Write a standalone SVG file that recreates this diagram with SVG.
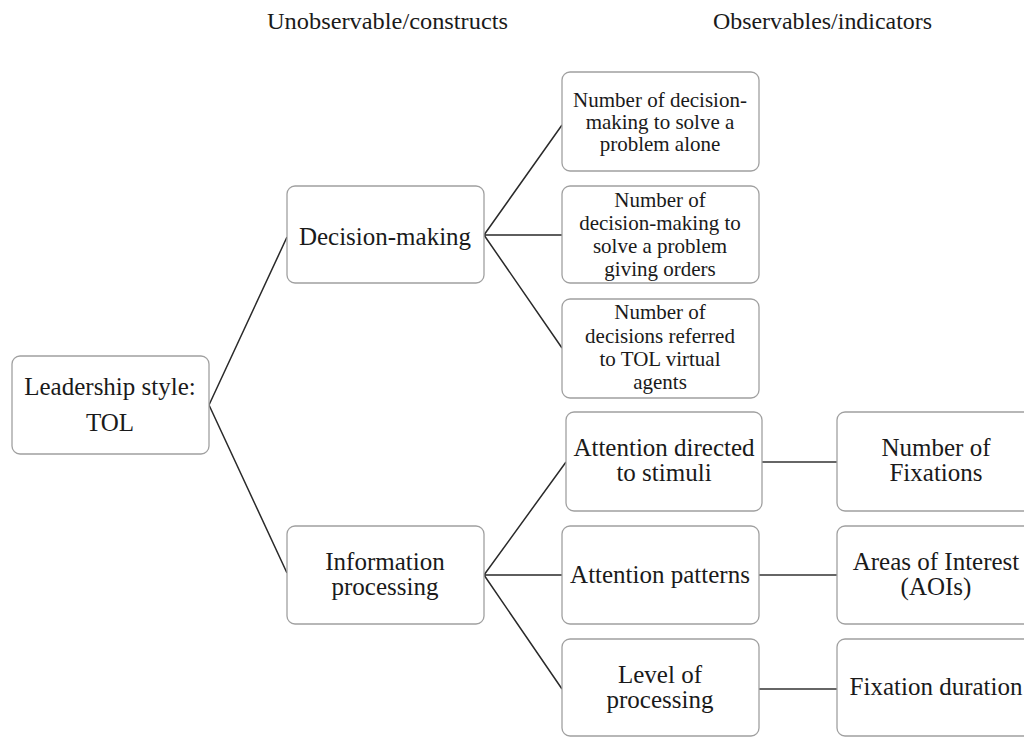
<svg xmlns="http://www.w3.org/2000/svg" width="1024" height="737" viewBox="0 0 1024 737">
<style>
.box{fill:#fff;stroke:#a0a0a0;stroke-width:1.3}
.t{font-family:"Liberation Serif","Times New Roman",serif;fill:#1a1a1a;text-anchor:middle}
.big{font-size:25px}
.sm{font-size:21px}
.hd{font-family:"Liberation Serif","Times New Roman",serif;fill:#1a1a1a;font-size:23px}
.c{stroke:#2a2a2a;stroke-width:1.5;fill:none}
.h{stroke:#666;stroke-width:2;fill:none}
</style>
<rect width="1024" height="737" fill="#fff"/>
<text class="hd" x="267" y="29" textLength="241" lengthAdjust="spacingAndGlyphs">Unobservable/constructs</text>
<text class="hd" x="713" y="29" textLength="219" lengthAdjust="spacingAndGlyphs">Observables/indicators</text>
<g id="connectors">
<path class="c" d="M209,405 L287,237 M209,405 L287,573"/>
<path class="c" d="M484,235 L562,125 M484,235 L562,235 M484,235 L562,348"/>
<path class="c" d="M484,575 L566,462 M484,575 L562,575 M484,575 L562,689"/>
<path class="h" d="M762,462 L837,462 M759,575 L837,575 M759,689 L837,689"/>
</g>
<g id="leadership"><rect class="box" x="12" y="356" width="197" height="98" rx="8"/>
<text class="t big" x="110" y="395">Leadership style:</text><text class="t big" x="110" y="431">TOL</text></g>
<g id="decision"><rect class="box" x="287" y="186" width="197" height="97" rx="8"/>
<text class="t big" x="385" y="245">Decision-making</text></g>
<g id="information"><rect class="box" x="287" y="526" width="197" height="98" rx="8"/>
<text class="t big" x="385" y="570">Information</text><text class="t big" x="385" y="595">processing</text></g>
<g id="dm1"><rect class="box" x="562" y="72" width="197" height="99" rx="8"/>
<text class="t sm" x="660" y="107">Number of decision-</text><text class="t sm" x="660" y="129">making to solve a</text><text class="t sm" x="660" y="151">problem alone</text></g>
<g id="dm2"><rect class="box" x="562" y="186" width="197" height="97" rx="8"/>
<text class="t sm" x="660" y="207">Number of</text><text class="t sm" x="660" y="230">decision-making to</text><text class="t sm" x="660" y="253">solve a problem</text><text class="t sm" x="660" y="276">giving orders</text></g>
<g id="dm3"><rect class="box" x="562" y="299" width="197" height="99" rx="8"/>
<text class="t sm" x="660" y="319">Number of</text><text class="t sm" x="660" y="343">decisions referred</text><text class="t sm" x="660" y="366">to TOL virtual</text><text class="t sm" x="660" y="389">agents</text></g>
<g id="att1"><rect class="box" x="566" y="412" width="196" height="99" rx="8"/>
<text class="t big" x="664" y="456">Attention directed</text><text class="t big" x="664" y="481">to stimuli</text></g>
<g id="att2"><rect class="box" x="562" y="526" width="197" height="98" rx="8"/>
<text class="t big" x="660" y="583">Attention patterns</text></g>
<g id="att3"><rect class="box" x="562" y="639" width="197" height="97" rx="8"/>
<text class="t big" x="660" y="683">Level of</text><text class="t big" x="660" y="708">processing</text></g>
<g id="obs1"><rect class="box" x="837" y="412" width="197" height="99" rx="8"/>
<text class="t big" x="936" y="456">Number of</text><text class="t big" x="936" y="481">Fixations</text></g>
<g id="obs2"><rect class="box" x="837" y="526" width="197" height="98" rx="8"/>
<text class="t big" x="936" y="570">Areas of Interest</text><text class="t big" x="936" y="595">(AOIs)</text></g>
<g id="obs3"><rect class="box" x="837" y="639" width="197" height="97" rx="8"/>
<text class="t big" x="936" y="695">Fixation duration</text></g>
</svg>
